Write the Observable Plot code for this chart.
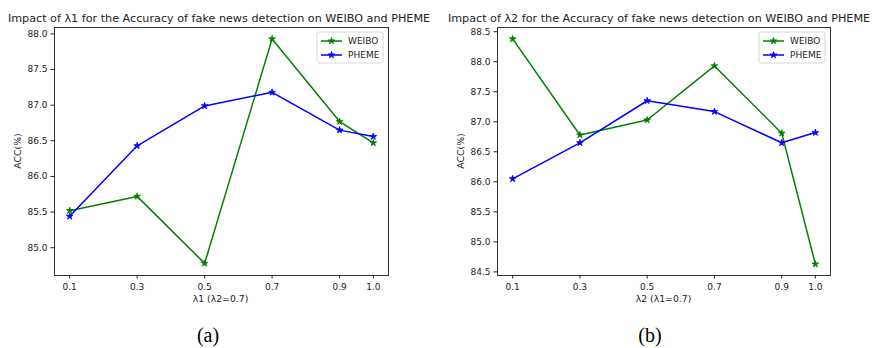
<!DOCTYPE html>
<html>
<head>
<meta charset="utf-8">
<script src="https://cdn.jsdelivr.net/npm/d3@7"></script>
<script src="https://cdn.jsdelivr.net/npm/@observablehq/plot@0.6"></script>
<style>
  html, body { margin: 0; padding: 0; background: #fff; }
  #wrap { position: relative; width: 873px; height: 348px; overflow: hidden; font-family: "DejaVu Sans", sans-serif; }
  .panel { position: absolute; top: 0; }
  #overlay { position: absolute; left: 0; top: 0; pointer-events: none; }
</style>
</head>
<body>
<div id="wrap">
  <div id="p1" class="panel" style="left:0px"></div>
  <div id="p2" class="panel" style="left:437px"></div>
  <svg id="overlay" width="873" height="348"></svg>
</div>
<script>
// ---- data ----
const lambdaValues = [0.1, 0.3, 0.5, 0.7, 0.9, 1.0];
const seriesNames = ["WEIBO", "PHEME"];
const seriesColors = ["green", "blue"];

// (a) varying λ1 (λ2 = 0.7)
const weiboL1 = [85.52, 85.72, 84.78, 87.93, 86.77, 86.47];
const phemeL1 = [85.44, 86.43, 86.99, 87.18, 86.65, 86.56];

// (b) varying λ2 (λ1 = 0.7)
const weiboL2 = [88.38, 86.78, 87.03, 87.93, 86.81, 84.63];
const phemeL2 = [86.05, 86.65, 87.35, 87.17, 86.65, 86.82];

const xTicks = [0.1, 0.3, 0.5, 0.7, 0.9, 1.0];
const yTicksA = [85.0, 85.5, 86.0, 86.5, 87.0, 87.5, 88.0];
const yTicksB = [84.5, 85.0, 85.5, 86.0, 86.5, 87.0, 87.5, 88.0, 88.5];

const titleA = "Impact of λ1 for the Accuracy of fake news detection on WEIBO and PHEME";
const titleB = "Impact of λ2 for the Accuracy of fake news detection on WEIBO and PHEME";
const xLabelA = "λ1 (λ2=0.7)";
const xLabelB = "λ2 (λ1=0.7)";
const yLabel = "ACC(%)";
const captions = ["(a)", "(b)"];

function toRows(w, p) {
  const rows = [];
  lambdaValues.forEach((x, i) => rows.push({series: "WEIBO", x, y: w[i]}));
  lambdaValues.forEach((x, i) => rows.push({series: "PHEME", x, y: p[i]}));
  return rows;
}

function makePanel(rows, yTicks, yDomain, mLeft, mRight) {
  return Plot.plot({
    width: 436,
    height: 300,
    marginLeft: mLeft,
    marginRight: mRight,
    marginTop: 27,
    marginBottom: 25,
    style: {fontFamily: "DejaVu Sans", fontSize: "9px", color: "#222", background: "transparent"},
    x: {domain: [0.055, 1.045], ticks: xTicks, tickFormat: d => d.toFixed(1), label: null, tickSize: 3.5, tickPadding: 4.5},
    y: {domain: yDomain, ticks: yTicks, tickFormat: d => d.toFixed(1), label: null, tickSize: 3.5, tickPadding: 3.5},
    color: {domain: seriesNames, range: seriesColors},
    marks: [
      Plot.line(rows, {x: "x", y: "y", z: "series", stroke: "series", strokeWidth: 1.5}),
      Plot.dot(rows, {x: "x", y: "y", fill: "series", stroke: "series", strokeWidth: 0.8, symbol: "star", r: 2.1}),
      Plot.frame({stroke: "#333", strokeWidth: 1})
    ]
  });
}

document.getElementById("p1").appendChild(
  makePanel(toRows(weiboL1, phemeL1), yTicksA, [84.61, 88.09], 54, 48));
document.getElementById("p2").appendChild(
  makePanel(toRows(weiboL2, phemeL2), yTicksB, [84.44, 88.57], 60, 43));

// ---- overlay text & legends ----
const svg = d3.select("#overlay");
const starPath = d3.symbol(d3.symbolStar, 2.1 * 2.1 * Math.PI)();

function addText(x, y, txt, opts = {}) {
  const t = svg.append("text")
    .attr("x", x).attr("y", y)
    .attr("text-anchor", opts.anchor || "middle")
    .attr("font-family", opts.family || "DejaVu Sans")
    .attr("font-size", opts.size || 9.3)
    .attr("fill", opts.fill || "#222")
    .text(txt);
  if (opts.rotate) t.attr("transform", `rotate(-90 ${x} ${y})`);
  return t;
}

function addLegend(x0, y0) {
  const g = svg.append("g").attr("transform", `translate(${x0},${y0})`);
  g.append("rect").attr("x", 0).attr("y", 0).attr("width", 66).attr("height", 31)
    .attr("rx", 2).attr("fill", "white").attr("fill-opacity", 0.8)
    .attr("stroke", "#ccc").attr("stroke-width", 0.8);
  seriesNames.forEach((name, i) => {
    const cy = 9 + i * 14;
    g.append("line").attr("x1", 4).attr("x2", 25).attr("y1", cy).attr("y2", cy)
      .attr("stroke", seriesColors[i]).attr("stroke-width", 1.5);
    g.append("path").attr("d", starPath).attr("transform", `translate(14.5,${cy})`)
      .attr("fill", seriesColors[i]).attr("stroke", seriesColors[i]).attr("stroke-width", 0.8);
    g.append("text").attr("x", 31).attr("y", cy + 3.3)
      .attr("font-family", "DejaVu Sans").attr("font-size", 9).attr("fill", "#222")
      .text(name);
  });
}

// titles
addText(219, 21.5, titleA, {size: 11.2});
addText(659, 21.5, titleB, {size: 11.2});
// x labels
addText(220.5, 302, xLabelA);
addText(663.5, 302, xLabelB);
// y labels
addText(20.5, 151, yLabel, {rotate: true});
addText(464, 151, yLabel, {rotate: true});
// legends
addLegend(317, 32);
addLegend(759, 32);
// captions
addText(208, 341.5, captions[0], {family: "Liberation Serif", size: 20, fill: "#000"});
addText(650, 341.5, captions[1], {family: "Liberation Serif", size: 20, fill: "#000"});
</script>
</body>
</html>
